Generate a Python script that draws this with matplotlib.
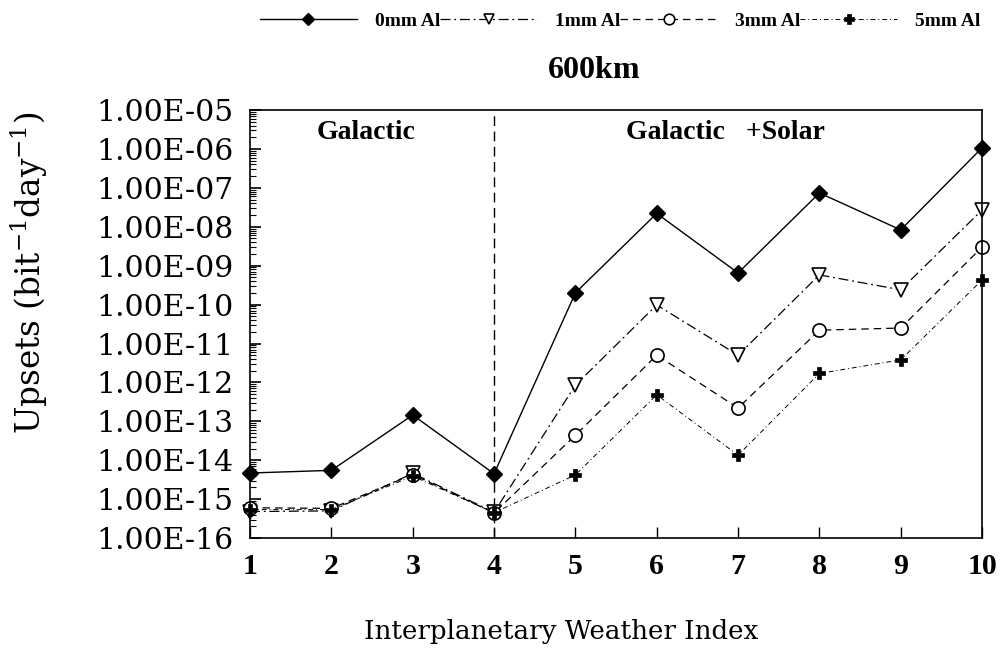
import matplotlib
matplotlib.use("Agg")
import matplotlib.pyplot as plt
import matplotlib.ticker as mticker
import numpy as np

plt.rcParams['font.family'] = ['DejaVu Serif']
plt.rcParams['mathtext.fontset'] = 'dejavuserif'

x = [1, 2, 3, 4, 5, 6, 7, 8, 9, 10]
al0 = [4.7e-15, 5.5e-15, 1.45e-13, 4.5e-15, 2.0e-10, 2.2e-8, 6.5e-10, 7.4e-8, 8.3e-9, 1.07e-6]
al1 = [4.8e-16, 5.0e-16, 4.6e-15, 4.6e-16, 8.5e-13, 9.8e-11, 5.0e-12, 5.8e-10, 2.4e-10, 2.7e-8]
al3 = [6.0e-16, 5.8e-16, 4.3e-15, 4.4e-16, 4.4e-14, 5.0e-12, 2.2e-13, 2.2e-11, 2.5e-11, 3.0e-9]
al5 = [5.4e-16, 5.4e-16, 3.9e-15, 4.5e-16, 4.2e-15, 4.8e-13, 1.35e-14, 1.7e-12, 3.8e-12, 4.3e-10]
labels = ['0mm Al', '1mm Al', '3mm Al', '5mm Al']
decades = list(range(-16, -4))

BOLD = ['Liberation Serif', 'DejaVu Serif']

fig = plt.figure(figsize=(10.01, 6.53), dpi=100)
ax = fig.add_axes([0.2498, 0.176, 0.7313, 0.6555])

common = dict(color='black', clip_on=False)
ax.plot(x, al0, lw=1.0, ls='-', marker='D', ms=8, mfc='black', mec='black', label=labels[0], **common)
ax.plot(x, al1, lw=0.9, ls=(0, (8, 3, 1.5, 3)), marker='v', ms=9.5, mfc='white', mec='black', mew=1.2, label=labels[1], **common)
ax.plot(x, al3, lw=0.9, ls=(0, (6, 4)), marker='o', ms=9.5, mfc='white', mec='black', mew=1.2, label=labels[2], **common)
ax.plot(x, al5, lw=0.7, ls=(0, (5, 3, 1, 3)), marker='P', ms=9, mfc='black', mec='black', mew=0.5, label=labels[3], **common)

ax.axvline(4, color='black', lw=1.0, ls=(0, (7, 4)))

ax.set_yscale('log')
ax.set_ylim(1e-16, 1e-5)
ax.set_xlim(1, 10)
ax.set_xticks(x)
ax.set_yticks([10.0 ** d for d in decades])
ax.yaxis.set_major_formatter(mticker.FuncFormatter(lambda v, p: "1.00E-%02d" % round(-np.log10(v))))
ax.yaxis.set_minor_locator(mticker.LogLocator(base=10, subs=np.arange(2, 10), numticks=100))
ax.yaxis.set_minor_formatter(mticker.NullFormatter())
ax.tick_params(axis='y', which='major', direction='in', length=8, width=1.2, labelsize=21.5, pad=12)
ax.tick_params(axis='y', which='minor', direction='in', length=4, width=0.8)
ax.tick_params(axis='x', which='major', direction='in', length=8, width=1.0, labelsize=21.5, pad=11)
for t in ax.get_xticklabels():
    t.set_fontweight('bold')
    t.set_family(BOLD)
for s in ax.spines.values():
    s.set_linewidth(1.2)

ax.text(2.43, 2.7e-6, 'Galactic', ha='center', va='center', fontsize=20, fontweight='bold', family=BOLD)
ax.text(6.85, 2.7e-6, 'Galactic   +Solar', ha='center', va='center', fontsize=20, fontweight='bold', family=BOLD)

ax.set_xlabel('Interplanetary Weather Index', fontsize=18.8)
ax.xaxis.set_label_coords(0.425, -0.19)
ax.set_ylabel('Upsets (bit$^{-1}$day$^{-1}$)', fontsize=23.5)
ax.yaxis.set_label_coords(-0.273, 0.619)

fig.text(594 / 1001, 1 - 71 / 653, '600km', ha='center', va='center', fontsize=23, fontweight='bold', family=BOLD)

leg = fig.legend(loc='center', bbox_to_anchor=(620 / 1001, 1 - 21 / 653), ncol=4, frameon=False,
                 prop={'weight': 'bold', 'size': 14, 'family': BOLD}, handlelength=5.0, columnspacing=0.0,
                 handletextpad=0.9, markerscale=0.8)

fig.savefig('out.png', dpi=100)
